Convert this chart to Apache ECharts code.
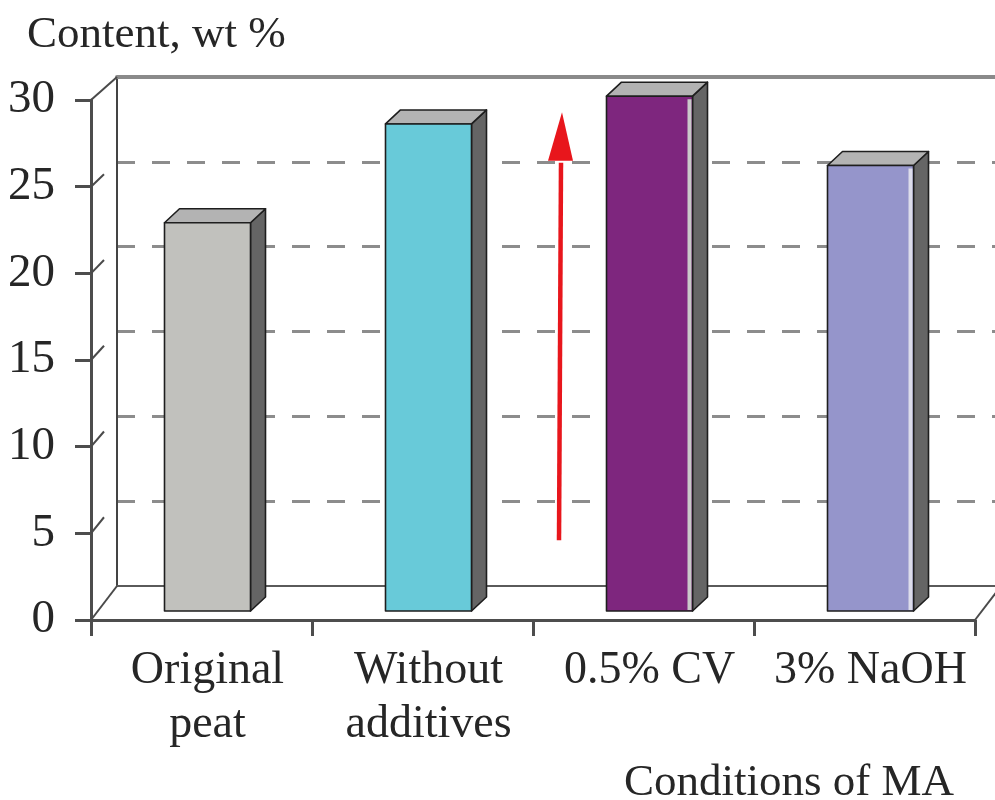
<!DOCTYPE html>
<html>
<head>
<meta charset="utf-8">
<script src="https://cdn.jsdelivr.net/npm/echarts@6/dist/echarts.min.js"></script>
<style>
  html, body { margin: 0; padding: 0; background: #fff; }
  #chart { width: 995px; height: 800px; }
</style>
</head>
<body>
<div id="chart"></div>
<script>
// Peat composition after mechanical activation (MA)
const categories = ['Original\npeat', 'Without\nadditives', '0.5% CV', '3% NaOH'];
const contentValues = [22.4, 28.1, 29.7, 25.7];
const yTicks = [0, 5, 10, 15, 20, 25, 30];

// Arrow annotation span, in wt %
const arrowFrom = 4.6;
const arrowTo = 29.3;

// Styling
const faceColors = ['#c1c1bd', '#68cad9', '#7e267e', '#9595cb'];
const edgeStrips = [null, null, '#c9c9c9', '#dcdcea'];
const FONT = '"Liberation Serif", "Times New Roman", serif';
const INK = '#262626';

// Pseudo-3D layout: front plane (axes) and back wall
const FRONT = { left: 91, top: 100, width: 884, height: 520 };
const BACK = { left: 117, top: 77, width: 884, height: 509 };
const BAR_SHIFT = [6, -9];   // bar front face relative to front plane
const BAR_DEPTH = [15, -14]; // bar depth (side / top faces)
const BAR_W = 86;

const chart = echarts.init(document.getElementById('chart'), null, { renderer: 'canvas' });

function renderBar(params, api) {
  const i = api.value(0);
  const v = api.value(1);
  const top = api.coord([i, v]);
  const base = api.coord([i, 0]);
  const cx = top[0] + BAR_SHIFT[0];
  const x0 = cx - BAR_W / 2, x1 = cx + BAR_W / 2;
  const y0 = top[1] + BAR_SHIFT[1], y1 = base[1] + BAR_SHIFT[1];
  const dx = BAR_DEPTH[0], dy = BAR_DEPTH[1];
  const edge = { stroke: '#1e1e1e', lineWidth: 1.6, lineJoin: 'round' };
  const children = [
    { type: 'polygon', shape: { points: [[x1, y0], [x1 + dx, y0 + dy], [x1 + dx, y1 + dy], [x1, y1]] },
      style: Object.assign({ fill: '#656565' }, edge) },
    { type: 'polygon', shape: { points: [[x0, y0], [x0 + dx, y0 + dy], [x1 + dx, y0 + dy], [x1, y0]] },
      style: Object.assign({ fill: '#b3b3b3' }, edge) },
    { type: 'rect', shape: { x: x0, y: y0, width: BAR_W, height: y1 - y0 },
      style: Object.assign({ fill: faceColors[i] }, edge) }
  ];
  if (edgeStrips[i]) {
    children.push({ type: 'rect', shape: { x: x1 - 5, y: y0 + 3, width: 4, height: y1 - y0 - 4 },
      style: { fill: edgeStrips[i] } });
  }
  return { type: 'group', children: children };
}

const textBase = { fontFamily: FONT, fontWeight: 'normal', color: INK };

chart.setOption({
  backgroundColor: '#ffffff',
  animation: false,
  title: [
    { text: 'Content, wt %', left: 22, top: 8, textStyle: Object.assign({ fontSize: 45 }, textBase) },
    { text: 'Conditions of MA', right: 36, top: 756, textStyle: Object.assign({ fontSize: 45 }, textBase) }
  ],
  grid: [
    Object.assign({}, FRONT),
    Object.assign({}, BACK)
  ],
  xAxis: [
    {
      type: 'category', gridIndex: 0, data: categories,
      axisLine: { lineStyle: { color: '#4d4d4d', width: 3 } },
      axisTick: { show: true, length: 16, lineStyle: { color: '#4d4d4d', width: 3 } },
      axisLabel: { interval: 0, margin: 24, fontSize: 46, lineHeight: 54, padding: [0, 0, 0, 12],
        fontFamily: FONT, color: INK },
      splitLine: { show: false }
    },
    {
      type: 'category', gridIndex: 1, data: categories,
      axisLine: { lineStyle: { color: '#5a5a5a', width: 2 } },
      axisTick: { show: false }, axisLabel: { show: false }, splitLine: { show: false }
    },
    {
      type: 'category', gridIndex: 1, position: 'top', data: categories,
      axisLine: { onZero: false, lineStyle: { color: '#8a8a8a', width: 4 } },
      axisTick: { show: false }, axisLabel: { show: false }, splitLine: { show: false }
    }
  ],
  yAxis: [
    {
      type: 'value', gridIndex: 0, min: 0, max: 30, interval: 5,
      axisLine: { show: true, lineStyle: { color: '#4d4d4d', width: 3 } },
      axisTick: { show: true, length: 16, lineStyle: { color: '#4d4d4d', width: 3 } },
      axisLabel: { margin: 36, fontSize: 47, fontFamily: FONT, color: INK, padding: [6, 0, 0, 0] },
      splitLine: { show: false }
    },
    {
      type: 'value', gridIndex: 1, min: 0, max: 30, interval: 5,
      axisLine: { show: true, lineStyle: { color: '#444', width: 2 } },
      axisTick: { show: false }, axisLabel: { show: false },
      splitLine: { show: true, showMinLine: false, showMaxLine: false,
        lineStyle: { type: [18, 17], color: '#8c8c8c', width: 3 } }
    }
  ],
  series: [
    {
      type: 'custom', xAxisIndex: 0, yAxisIndex: 0, z: 10,
      renderItem: renderBar,
      data: contentValues.map(function (v, i) { return [i, v]; })
    }
  ]
});

// Depth edges joining the front axes to the back wall, plus the arrow
const yF = function (v) { return chart.convertToPixel({ yAxisIndex: 0 }, v); };
const yB = function (v) { return chart.convertToPixel({ yAxisIndex: 1 }, v); };
const depthStyle = { stroke: '#4a4a4a', lineWidth: 2 };
const graphics = [];
yTicks.forEach(function (v) {
  const fx = FRONT.left, fy = yF(v);
  const bx = BACK.left, by = yB(v);
  const full = (v === yTicks[0] || v === yTicks[yTicks.length - 1]);
  const t = full ? 1 : 0.5;
  graphics.push({ type: 'line', z: 20,
    shape: { x1: fx, y1: fy, x2: fx + (bx - fx) * t, y2: fy + (by - fy) * t }, style: depthStyle });
});
graphics.push({ type: 'line', z: 20,
  shape: { x1: FRONT.left + FRONT.width, y1: yF(0), x2: BACK.left + BACK.width, y2: yB(0) },
  style: depthStyle });

const arrowX = 560;
const headBase = yF(arrowTo - 2.8);
graphics.push({ type: 'line', z: 30,
  shape: { x1: arrowX - 1, y1: yF(arrowFrom), x2: arrowX + 1, y2: headBase + 2 },
  style: { stroke: '#e8161c', lineWidth: 4.5 } });
graphics.push({ type: 'polygon', z: 30,
  shape: { points: [[arrowX + 2, yF(arrowTo)], [arrowX - 12, headBase], [arrowX + 13, headBase]] },
  style: { fill: '#e8161c' } });

chart.setOption({ graphic: graphics });
</script>
</body>
</html>
